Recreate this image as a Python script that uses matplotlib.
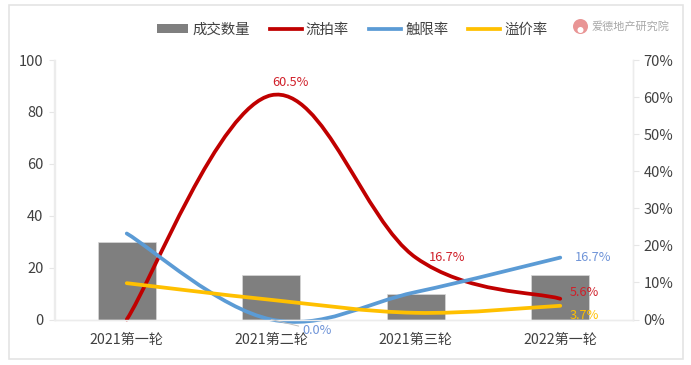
"""Auction rounds: deal counts (bars) with smoothed rate lines on a second axis."""
import matplotlib
matplotlib.use("Agg")
import matplotlib.pyplot as plt
from matplotlib.lines import Line2D
from matplotlib.patches import Circle, PathPatch, Rectangle
from matplotlib.path import Path
import numpy as np

plt.rcParams["font.family"] = ["Noto Sans CJK SC", "DejaVu Sans"]

ROUNDS = ["2021第一轮", "2021第二轮", "2021第三轮", "2022第一轮"]
DEALS = [30, 17, 10, 17]
FAIL_RATE = [0.0, 60.5, 16.7, 5.6]
LIMIT_RATE = [23.2, 0.0, 7.4, 16.7]
PREMIUM_RATE = [9.8, 5.3, 1.8, 3.7]

INK = "#404040"
RED = "#C00000"
BLUE = "#5B9BD5"
YELLOW = "#FFC000"
LABEL_RED = "#D0202A"
LABEL_BLUE = "#6f94d8"


def smooth_path(x, y, k=0.18):
    """Bezier through the points, tangents like Excel's smoothed line."""
    x = np.asarray(x, dtype=float)
    y = np.asarray(y, dtype=float)
    verts = [(x[0], y[0])]
    codes = [Path.MOVETO]
    for i in range(len(x) - 1):
        i0, i3 = max(i - 1, 0), min(i + 2, len(x) - 1)
        verts.append((x[i] + k * (x[i + 1] - x[i0]), y[i] + k * (y[i + 1] - y[i0])))
        verts.append((x[i + 1] - k * (x[i3] - x[i]), y[i + 1] - k * (y[i3] - y[i])))
        verts.append((x[i + 1], y[i + 1]))
        codes += [Path.CURVE4] * 3
    return Path(verts, codes)


def main():
    fig = plt.figure(figsize=(6.91, 3.65), dpi=100)
    fig.add_artist(Rectangle((8.5 / 691, 1 - 358.5 / 365), 674 / 691, 354 / 365,
                             transform=fig.transFigure, fill=False,
                             edgecolor="#e4e4e4", linewidth=1.2))

    ax = fig.add_axes([54.5 / 691, 1 - 319.5 / 365, 578 / 691, 259.5 / 365])
    ax2 = ax.twinx()
    x = np.arange(len(ROUNDS))

    ax.bar(x, DEALS, 0.4, color="#7f7f7f", edgecolor="#d9d9d9", linewidth=0.5)
    ax.set_xlim(-0.5, 3.5)
    ax.set_ylim(0, 100)
    ax.set_yticks(range(0, 101, 20))
    ax.set_xticks(x)
    ax.set_xticklabels(ROUNDS)
    ax.tick_params(axis="x", length=0, pad=10, labelsize=10.2, labelcolor=INK)
    ax.tick_params(axis="y", length=4, color="#e6e6e6", width=0.8, pad=4,
                   labelsize=10.5, labelcolor=INK)

    ax2.set_ylim(0, 70)
    ax2.set_yticks(range(0, 71, 10))
    ax2.set_yticklabels([f"{v}%" for v in range(0, 71, 10)])
    ax2.tick_params(axis="y", length=4, color="#e6e6e6", width=0.8, pad=4,
                    labelsize=10.5, labelcolor=INK)

    for a in (ax, ax2):
        for name, sp in a.spines.items():
            sp.set_visible(name != "top")
            sp.set_color("#ececec")
            sp.set_linewidth(1.0)

    for values, color in [(FAIL_RATE, RED), (LIMIT_RATE, BLUE), (PREMIUM_RATE, YELLOW)]:
        ax2.add_patch(PathPatch(smooth_path(x, values), fill=False, edgecolor=color,
                                linewidth=2.7, capstyle="round", clip_on=False))

    # data labels, placed by hand the way they sit in the source chart
    ax2.text(1.13, FAIL_RATE[1] + 3.3, "60.5%", color=LABEL_RED, fontsize=9.2, ha="center", va="center")
    ax2.text(2.22, FAIL_RATE[2] - 0.1, "16.7%", color=LABEL_RED, fontsize=9.2, ha="center", va="center")
    ax2.text(3.165, FAIL_RATE[3] + 1.8, "5.6%", color=LABEL_RED, fontsize=9.2, ha="center", va="center")
    ax2.text(3.224, LIMIT_RATE[3] - 0.1, "16.7%", color=LABEL_BLUE, fontsize=9.2, ha="center", va="center")
    ax2.text(3.165, PREMIUM_RATE[3] - 2.5, "3.7%", color=YELLOW, fontsize=9.2, ha="center", va="center")
    ax2.annotate("0.0%", xy=(1.0, LIMIT_RATE[1]), xytext=(1.32, -3.0), color=LABEL_BLUE,
                 fontsize=9.2, ha="center", va="center", annotation_clip=False,
                 arrowprops=dict(arrowstyle="-", color="#bfbfbf", linewidth=0.7, shrinkA=1, shrinkB=0))

    handles = [
        Rectangle((0, 0), 1, 1, facecolor="#7f7f7f"),
        Line2D([], [], color=RED, linewidth=2.7),
        Line2D([], [], color=BLUE, linewidth=2.7),
        Line2D([], [], color=YELLOW, linewidth=2.7),
    ]
    fig.legend(handles, ["成交数量", "流拍率", "触限率", "溢价率"], ncol=4, frameon=False,
               loc="center left", bbox_to_anchor=(143.5 / 691, 1 - 29.5 / 365),
               fontsize=10.4, labelcolor=INK, handlelength=2.2, handleheight=0.6,
               handletextpad=0.28, columnspacing=1.4)

    # watermark
    for cx, cy, r, c in [(580.5, 26.5, 7.5, "#e99595"), (580.5, 30.0, 3.0, "white")]:
        fig.add_artist(Circle((cx / 100, 3.65 - cy / 100), r / 100,
                              transform=fig.dpi_scale_trans, facecolor=c, edgecolor="none"))
    fig.text(592 / 691, 1 - 26.5 / 365, "爱德地产研究院", color="#a8a8a8", fontsize=8,
             ha="left", va="center")

    fig.savefig("out.png", dpi=100)
    plt.close(fig)


if __name__ == "__main__":
    main()
